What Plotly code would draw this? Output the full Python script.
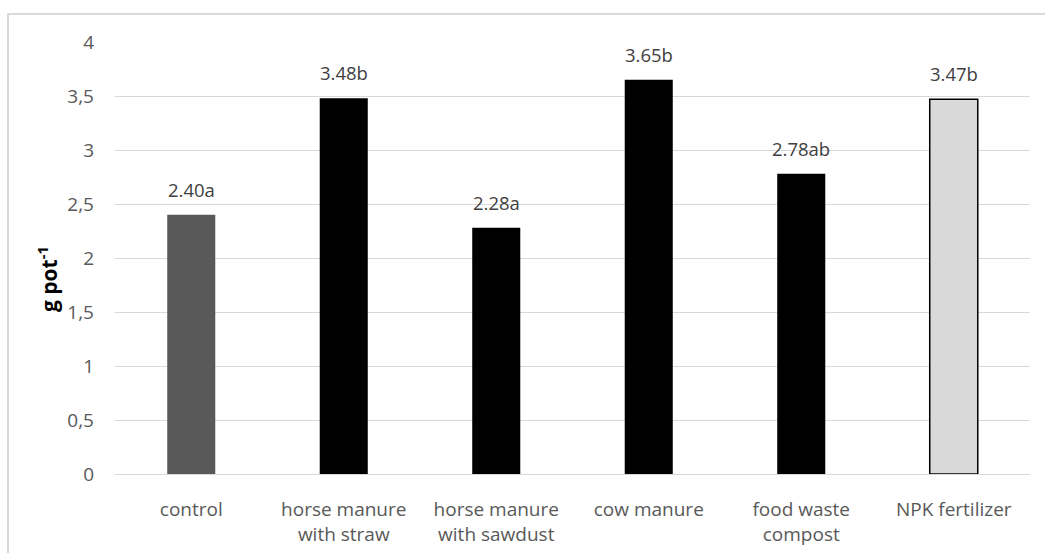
import plotly.graph_objects as go

categories = ["control", "horse manure<br>with straw", "horse manure<br>with sawdust",
              "cow manure", "food waste<br>compost", "NPK fertilizer"]
values = [2.40, 3.48, 2.28, 3.65, 2.78, 3.47]
letters = ["a", "b", "a", "b", "ab", "b"]
labels = [f"{v:.2f}{l}" for v, l in zip(values, letters)]
colors = ["#595959", "#000000", "#000000", "#000000", "#000000", "#d9d9d9"]
line_colors = ["#595959", "#000000", "#000000", "#000000", "#000000", "#000000"]
line_widths = [0, 0, 0, 0, 0, 1.5]
y_ticks = [0, 0.5, 1, 1.5, 2, 2.5, 3, 3.5, 4]
y_ticktext = ["0", "0,5", "1", "1,5", "2", "2,5", "3", "3,5", "4"]

FONT = "Open Sans, Lato, Liberation Sans, sans-serif"

fig = go.Figure(go.Bar(
    x=categories, y=values,
    marker=dict(color=colors, line=dict(color=line_colors, width=line_widths)),
    width=0.315,
))

annotations = [dict(x=c, y=v, xref="x", yref="y", text=t, showarrow=False,
                    yanchor="bottom", yshift=11,
                    font=dict(family=FONT, size=18.5, color="#404040"))
               for c, v, t in zip(categories, values, labels)]
annotations.append(dict(text="<b>g pot<sup>-1</sup></b>", textangle=-90,
                        xref="paper", yref="paper", x=(47 - 115) / 915, y=(474 - 279) / 432,
                        showarrow=False, font=dict(family=FONT, size=21, color="black"),
                        xanchor="center", yanchor="middle"))

fig.update_layout(
    width=1045, height=553,
    margin=dict(l=115, r=15, t=42, b=79),
    paper_bgcolor="white", plot_bgcolor="white",
    showlegend=False,
    xaxis=dict(tickfont=dict(family=FONT, size=19, color="#595959"),
               showline=True, linecolor="#d9d9d9", linewidth=1,
               ticks="", showgrid=False, ticklabelstandoff=18, automargin=False),
    yaxis=dict(range=[0, 4], tickvals=y_ticks, ticktext=y_ticktext,
               tickfont=dict(family=FONT, size=19, color="#595959"),
               showgrid=True, gridcolor="#d9d9d9", gridwidth=1,
               zeroline=False, showline=False, ticks="", ticklabelstandoff=20,
               automargin=False),
    annotations=annotations,
    shapes=[dict(type="rect", xref="paper", yref="paper",
                 x0=(8 - 115) / 915, x1=1.05, y0=-0.3, y1=(474 - 14) / 432,
                 line=dict(color="#d9d9d9", width=2), layer="below")],
)

fig.write_html("out.html")
